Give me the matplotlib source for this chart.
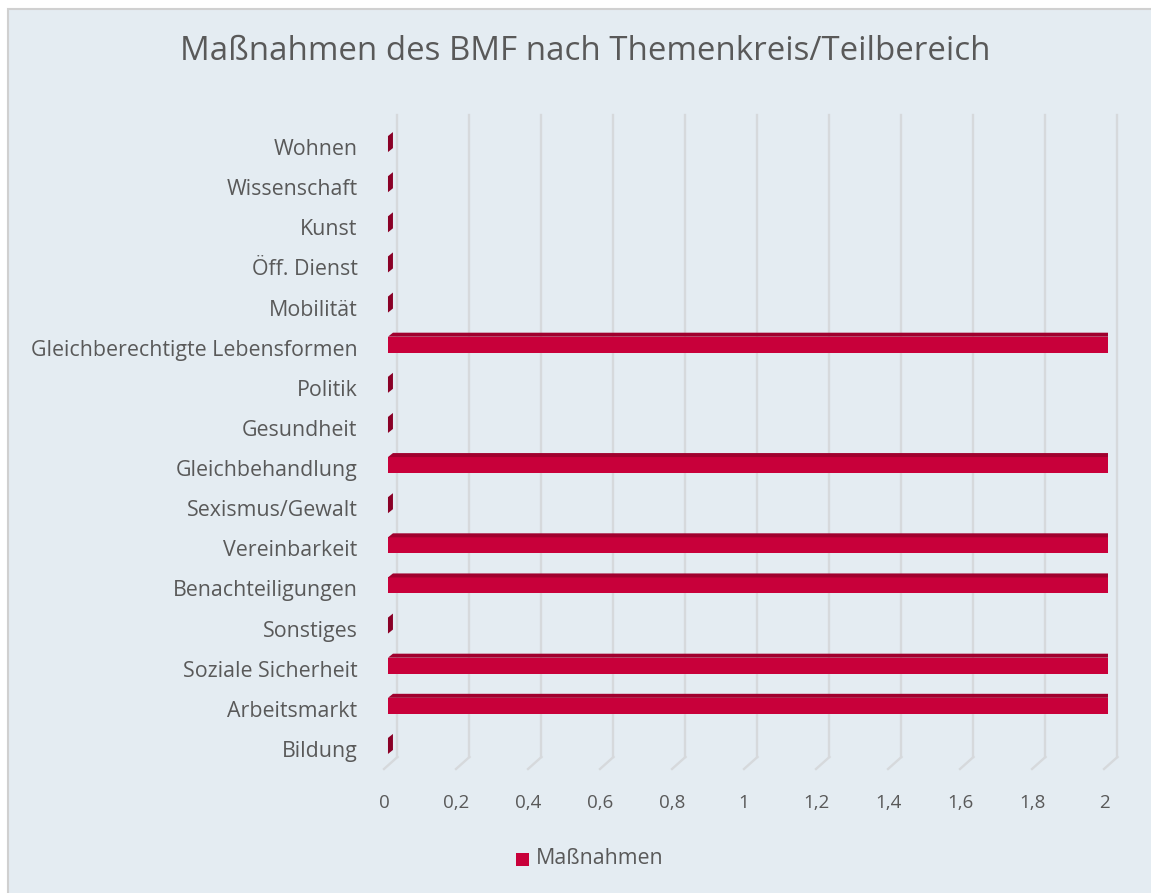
import matplotlib
matplotlib.use("Agg")
import matplotlib.pyplot as plt
from matplotlib.patches import Polygon, Rectangle
from matplotlib.transforms import ScaledTranslation

plt.rcParams['font.family'] = ['Open Sans', 'DejaVu Sans']

kategorien = ['Bildung', 'Arbeitsmarkt', 'Soziale Sicherheit', 'Sonstiges',
              'Benachteiligungen', 'Vereinbarkeit', 'Sexismus/Gewalt',
              'Gleichbehandlung', 'Gesundheit', 'Politik',
              'Gleichberechtigte Lebensformen', 'Mobilität', 'Öff. Dienst',
              'Kunst', 'Wissenschaft', 'Wohnen']
massnahmen = [0, 2, 2, 0, 2, 2, 0, 2, 0, 0, 2, 0, 0, 0, 0, 0]
xticks = [0, 0.2, 0.4, 0.6, 0.8, 1, 1.2, 1.4, 1.6, 1.8, 2]
xlabels = ['0', '0,2', '0,4', '0,6', '0,8', '1', '1,2', '1,4', '1,6', '1,8', '2']

W, H = 1151, 893
bg = '#E4ECF2'
front = '#C8003A'
top = '#A0002E'
side = '#8A0026'
grid = '#D6D9DC'
txt = '#595959'

fig = plt.figure(figsize=(W / 100, H / 100), dpi=100, facecolor='white')

# chart area background with grey frame at left/top
frame = Rectangle((8 / W, -0.01), 1, 1 - 9 / H + 0.01, transform=fig.transFigure,
                  facecolor=bg, edgecolor='#D0D0D0', lw=1.5, zorder=-10)
fig.patches.append(frame)

left_px, right_px = 384, 1108
top_px, bot_px = 124, 766
ax = fig.add_axes([left_px / W, 1 - bot_px / H, (right_px - left_px) / W, (bot_px - top_px) / H])
ax.set_zorder(5)
ax.patch.set_visible(False)
ax.set_xlim(0, 2)
ax.set_ylim(-0.5, 15.5)

px = 2 / (right_px - left_px)
py = 16 / (bot_px - top_px)

# gridlines with 3D floor edge
for v in xticks:
    gx = v + 9.5 * px
    ax.plot([gx, gx], [-0.5 + 9 * py, 15.5 + 9 * py], color=grid, lw=1.7, zorder=1, clip_on=False)
    ax.plot([gx, v - 4 * px], [-0.5 + 9 * py, -0.5 - 3 * py], color=grid, lw=1.7, zorder=1, clip_on=False)

# bars with 3D faces
bh = 16 * py
dx, dy = 5 * px, 4 * py
ax.barh(range(len(kategorien)), massnahmen, height=bh, color=front, zorder=3)
for i, v in enumerate(massnahmen):
    y0, y1 = i - bh / 2, i + bh / 2
    if v > 0:
        ax.add_patch(Polygon([(0, y1), (v, y1), (v + dx, y1 + dy), (dx, y1 + dy)],
                             closed=True, facecolor=top, edgecolor='none', zorder=3))
    ax.add_patch(Polygon([(v, y0), (v, y1), (v + dx, y1 + dy), (v + dx, y0 + dy)],
                         closed=True, facecolor=side, edgecolor='none', zorder=3))

ax.set_yticks(range(len(kategorien)))
ax.set_yticklabels(kategorien, fontsize=15.4, color=txt)
ax.tick_params(axis='y', length=0, pad=19)
shift = ScaledTranslation(0, -0.03, fig.dpi_scale_trans)
for lab in ax.get_yticklabels():
    lab.set_transform(lab.get_transform() + shift)
ax.set_xticks([v - 4 * px for v in xticks])
ax.set_xticklabels(xlabels, fontsize=13.5, color=txt)
ax.tick_params(axis='x', length=0, pad=20)
for s in ax.spines.values():
    s.set_visible(False)

fig.text(585 / W, 1 - 52 / H, 'Maßnahmen des BMF nach Themenkreis/Teilbereich',
         ha='center', va='center', fontsize=23.8, color=txt)

# legend
fig.patches.append(Rectangle((516 / W, 1 - 866 / H), 13 / W, 13 / H, transform=fig.transFigure,
                             facecolor=front, edgecolor='none'))
fig.text(536 / W, 1 - 859 / H, 'Maßnahmen', ha='left', va='center', fontsize=15.4, color=txt)

fig.savefig('out.png', dpi=100, facecolor='white')
